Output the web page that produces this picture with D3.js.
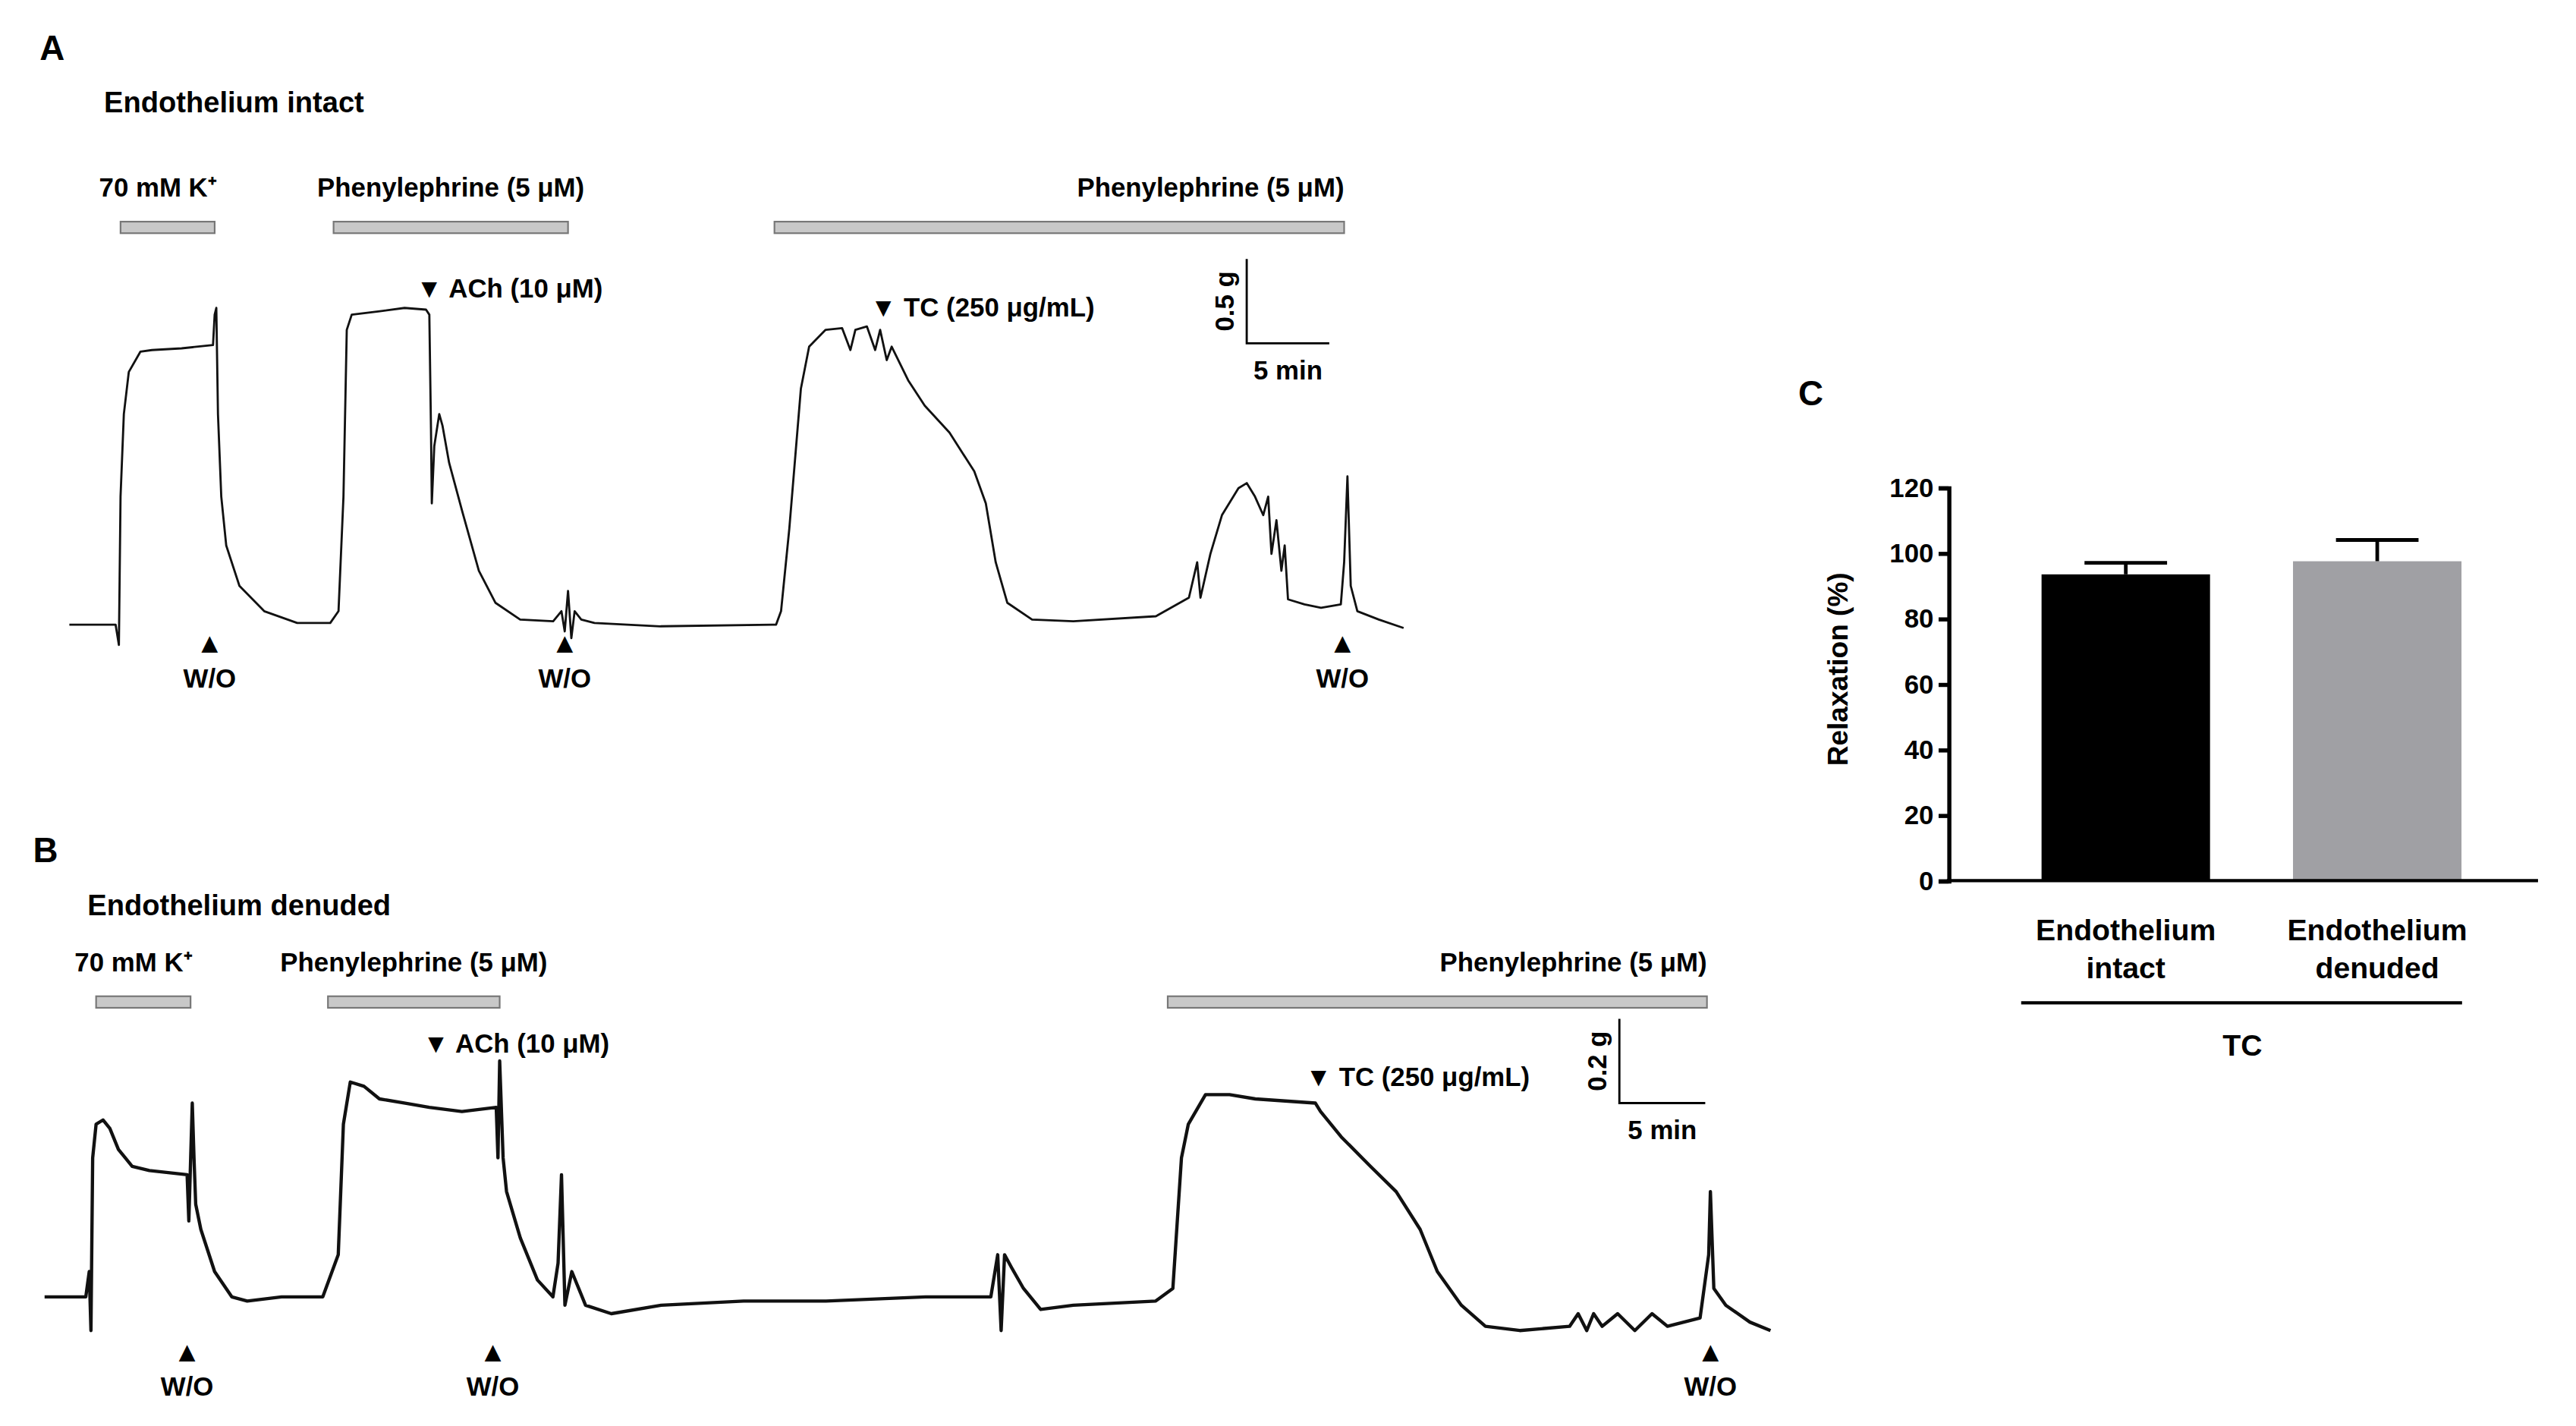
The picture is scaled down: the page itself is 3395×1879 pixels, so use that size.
<!DOCTYPE html>
<html><head><meta charset="utf-8">
<script src="https://cdn.jsdelivr.net/npm/d3@7"></script>
<style>
body{margin:0;background:#fff}
text{font-family:"Liberation Sans",Arial,sans-serif;font-weight:bold;fill:#000}
</style></head>
<body><div class="container"></div>
<script>
// trace A: [time (min), tension (g)]
const traceA = [[0,0],[2.8,0],[3.0,-0.12],[3.1,0.76],[3.3,1.25],[3.6,1.5],[4.3,1.62],[5.0,1.63],[6.8,1.64],[8.7,1.66],[8.8,1.84],[8.9,1.88],[9.0,1.25],[9.2,0.76],[9.5,0.47],[10.3,0.23],[11.8,0.08],[13.8,0.01],[15.8,0.01],[16.3,0.08],[16.6,0.76],[16.8,1.75],[17.1,1.84],[18.8,1.86],[20.3,1.88],[21.6,1.87],[21.8,1.84],[21.9,1.16],[21.95,0.72],[22.1,1.06],[22.4,1.25],[22.6,1.18],[23.0,0.96],[23.8,0.67],[24.8,0.32],[25.8,0.13],[27.3,0.03],[29.3,0.02],[29.8,0.08],[30.0,-0.04],[30.2,0.2],[30.4,-0.08],[30.6,0.08],[31.0,0.03],[31.8,0.01],[35.8,-0.01],[42.8,0],[43.1,0.08],[43.6,0.57],[44.3,1.4],[44.8,1.65],[45.8,1.75],[46.8,1.76],[47.3,1.63],[47.6,1.75],[48.3,1.77],[48.8,1.63],[49.1,1.75],[49.5,1.57],[49.8,1.65],[50.8,1.45],[51.8,1.3],[53.3,1.14],[54.8,0.91],[55.5,0.72],[56.1,0.37],[56.8,0.13],[58.3,0.03],[60.8,0.02],[65.8,0.05],[67.8,0.16],[68.3,0.37],[68.5,0.16],[69.1,0.42],[69.8,0.65],[70.8,0.81],[71.3,0.84],[71.8,0.76],[72.3,0.65],[72.6,0.76],[72.8,0.42],[73.1,0.62],[73.4,0.32],[73.6,0.47],[73.8,0.15],[74.8,0.12],[75.8,0.1],[77.0,0.12],[77.2,0.37],[77.4,0.88],[77.6,0.23],[78.0,0.08],[79.3,0.03],[80.8,-0.02]];
const traceB = [[0,0],[2.4,0],[2.6,0.06],[2.7,-0.08],[2.8,0.33],[3.0,0.41],[3.4,0.42],[3.8,0.40],[4.3,0.35],[5.1,0.31],[6.1,0.30],[8.3,0.29],[8.4,0.18],[8.6,0.46],[8.7,0.33],[8.8,0.22],[9.1,0.16],[9.9,0.06],[10.9,0],[11.8,-0.01],[13.8,0],[16.2,0],[17.1,0.1],[17.4,0.41],[17.8,0.51],[18.6,0.5],[19.5,0.47],[21.0,0.46],[22.4,0.45],[24.3,0.44],[26.3,0.45],[26.4,0.33],[26.5,0.56],[26.7,0.33],[26.9,0.25],[27.7,0.14],[28.7,0.04],[29.6,0],[29.9,0.08],[30.1,0.29],[30.3,-0.02],[30.7,0.06],[31.5,-0.02],[33.0,-0.04],[35.9,-0.02],[40.7,-0.01],[45.5,-0.01],[51.3,0],[55.1,0],[55.5,0.1],[55.7,-0.08],[55.9,0.1],[56.3,0.07],[57.0,0.02],[58.0,-0.03],[59.9,-0.02],[64.7,-0.01],[65.7,0.02],[66.2,0.33],[66.6,0.41],[67.6,0.48],[69.0,0.48],[70.5,0.47],[74.0,0.46],[74.3,0.44],[75.5,0.38],[77.2,0.31],[78.7,0.25],[80.1,0.16],[81.1,0.06],[82.5,-0.02],[83.9,-0.07],[85.9,-0.08],[88.8,-0.07],[89.3,-0.04],[89.8,-0.08],[90.2,-0.04],[90.7,-0.07],[91.6,-0.04],[92.6,-0.08],[93.6,-0.04],[94.5,-0.07],[96.4,-0.05],[96.9,0.1],[97.0,0.25],[97.2,0.02],[97.9,-0.02],[99.3,-0.06],[100.5,-0.08]];

// drug application bars [start, end, label] (min)
const barsA = [[3.1,8.8,"70 mM K⁺"],[16.0,30.2,"Phenylephrine (5 μM)"],[42.7,77.2,"Phenylephrine (5 μM)"]];
const barsB = [[3.0,8.5,"70 mM K⁺"],[16.5,26.5,"Phenylephrine (5 μM)"],[65.4,96.8,"Phenylephrine (5 μM)"]];
// drug additions [time, tension of arrow tip, label]
const addsA = [[21.6,1.94,"ACh (10 μM)"],[49.1,1.83,"TC (250 μg/mL)"]];
const addsB = [[22.6,0.58,"ACh (10 μM)"],[74.0,0.50,"TC (250 μg/mL)"]];
const washA = [8.5,30.0,77.1];
const washB = [8.3,26.1,97.0];

// panel C
const groups = ["Endothelium intact","Endothelium denuded"];
const relax = [93.5,97.5];
const relaxErr = [3.5,6.5];
const yTicks = [0,20,40,60,80,100,120];

const svg = d3.select(".container").append("svg")
  .attr("width",3395).attr("height",1879)
  .attr("viewBox","0 0 1560 863");

function panel(o){
  const x = d3.scaleLinear().domain([0,10]).range([o.x0,o.x0+o.pxMin*10]);
  const y = d3.scaleLinear().domain([0,1]).range([o.base,o.base-o.pxG]);
  const g = svg.append("g");
  g.append("text").attr("x",o.lx).attr("y",o.ly).attr("font-size",21).text(o.letter);
  g.append("text").attr("x",o.tx).attr("y",o.ly+32).attr("font-size",17.5).text(o.title);
  g.append("path").datum(o.trace)
    .attr("d",d3.line().x(d=>x(d[0])).y(d=>y(d[1])))
    .attr("fill","none").attr("stroke","#111").attr("stroke-width",o.sw).attr("stroke-linejoin","round");
  g.selectAll(".db").data(o.bars).enter().append("rect")
    .attr("x",d=>x(d[0])).attr("width",d=>x(d[1])-x(d[0]))
    .attr("y",o.barY).attr("height",7).attr("fill","#c8c8c8").attr("stroke","#777").attr("stroke-width",1);
  g.selectAll(".dl").data(o.bars).enter().append("text")
    .attr("x",(d,i)=> i==2 ? x(d[1]) : i==0 ? x(d[0])-13 : (x(d[0])+x(d[1]))/2)
    .attr("text-anchor",(d,i)=> i==2 ? "end" : i==0 ? "start" : "middle")
    .attr("y",o.barY-15).attr("font-size",16).text(d=>d[2]);
  g.selectAll(".ad").data(o.adds).enter().append("text")
    .attr("x",d=>x(d[0])-6).attr("y",d=>y(d[1])).attr("font-size",16)
    .text(d=>"▼ "+d[2]);
  g.selectAll(".wa").data(o.wash).enter().append("text")
    .attr("x",d=>x(d)).attr("y",o.washY).attr("text-anchor","middle").attr("font-size",17).text("▲");
  g.selectAll(".wt").data(o.wash).enter().append("text")
    .attr("x",d=>x(d)).attr("y",o.washY+21).attr("text-anchor","middle").attr("font-size",16).text("W/O");
  // scale bar
  const sx = x(o.sb[0]), sy = y(o.sb[1]);
  g.append("path").attr("d",`M${sx},${y(o.sb[1]+o.sbG)}V${sy}H${x(o.sb[0]+5)}`)
    .attr("fill","none").attr("stroke","#000").attr("stroke-width",1.3);
  g.append("text").attr("transform",`translate(${sx-8},${(sy+y(o.sb[1]+o.sbG))/2}) rotate(-90)`)
    .attr("text-anchor","middle").attr("font-size",16).text(o.sbG+" g");
  g.append("text").attr("x",(sx+x(o.sb[0]+5))/2).attr("y",sy+22).attr("text-anchor","middle")
    .attr("font-size",16).text("5 min");
}

panel({letter:"A",title:"Endothelium intact",lx:24,ly:36,tx:63,x0:42,pxMin:10,base:378,pxG:102,sw:1.3,
  trace:traceA,bars:barsA,barY:134,adds:addsA,wash:washA,washY:395,sb:[71.3,1.67],sbG:0.5});
panel({letter:"B",title:"Endothelium denuded",lx:20,ly:522,tx:53,x0:27,pxMin:10.4,base:785,pxG:255,sw:2,
  trace:traceB,bars:barsB,barY:603,adds:addsB,wash:washB,washY:824,sb:[91.7,0.46],sbG:0.2});

// panel C bar chart
const cx = d3.scaleBand().domain(groups).range([1180,1547]).paddingInner(0.33).paddingOuter(0.37);
const cy = d3.scaleLinear().domain([0,120]).range([533,295]);
const c = svg.append("g");
c.append("text").attr("x",1089).attr("y",245).attr("font-size",21).text("C");
c.selectAll(".bar").data(groups).enter().append("rect")
  .attr("x",d=>cx(d)).attr("width",cx.bandwidth())
  .attr("y",(d,i)=>cy(relax[i])).attr("height",(d,i)=>cy(0)-cy(relax[i]))
  .attr("fill",(d,i)=> i ? "#a0a0a4" : "#000");
c.selectAll(".err").data(groups).enter().append("path")
  .attr("d",(d,i)=>{const m=cx(d)+cx.bandwidth()/2;return `M${m},${cy(relax[i])}V${cy(relax[i]+relaxErr[i])}M${m-25},${cy(relax[i]+relaxErr[i])}h50`;})
  .attr("stroke","#000").attr("stroke-width",2.2).attr("fill","none");
const ya = c.append("g").attr("transform","translate(1180,0)")
  .call(d3.axisLeft(cy).tickValues(yTicks).tickSize(6).tickPadding(3));
ya.select(".domain").attr("stroke-width",2.5);
ya.selectAll("line").attr("stroke-width",2.5);
ya.selectAll("text").attr("font-size",16).attr("font-family","Liberation Sans, Arial").attr("font-weight","bold");
c.append("line").attr("x1",1179).attr("x2",1537).attr("y1",cy(0)).attr("y2",cy(0)).attr("stroke","#000").attr("stroke-width",2);
c.append("text").attr("transform","translate(1119,405) rotate(-90)").attr("text-anchor","middle")
  .attr("font-size",17).text("Relaxation (%)");
groups.forEach(d=>{
  const w = d.split(" ");
  const t = c.append("text").attr("text-anchor","middle").attr("font-size",18);
  w.forEach((s,j)=>t.append("tspan").attr("x",cx(d)+cx.bandwidth()/2).attr("y",569+j*23).text(s));
});
c.append("line").attr("x1",1224).attr("x2",1491).attr("y1",607).attr("y2",607).attr("stroke","#000").attr("stroke-width",2);
c.append("text").attr("x",1358).attr("y",639).attr("text-anchor","middle").attr("font-size",18).text("TC");
</script></body></html>
